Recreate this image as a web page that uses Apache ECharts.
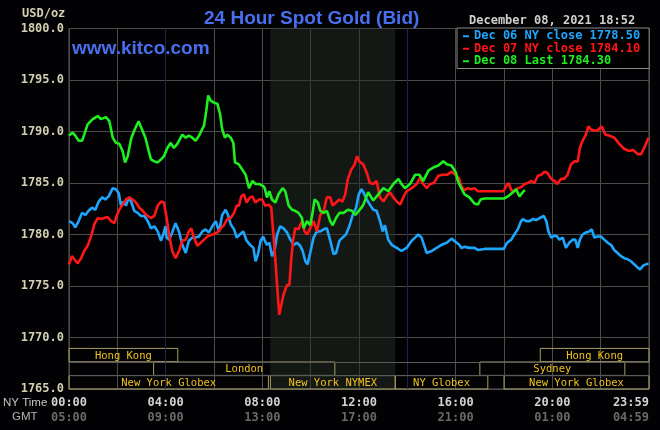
<!DOCTYPE html>
<html>
<head>
<meta charset="utf-8">
<script src="https://cdn.jsdelivr.net/npm/echarts@6/dist/echarts.min.js"></script>
<style>
html, body { margin: 0; padding: 0; background: #020204; }
#chart { width: 660px; height: 430px; }
</style>
</head>
<body>
<div id="chart"></div>
<script>
// hours since 00:00 NY time, price in USD/oz
const dec06 = [[0,1781.3],[0.15,1781.1],[0.26,1780.7],[0.4,1781.3],[0.54,1782.1],[0.68,1781.9],[0.81,1782.3],[0.95,1782.6],[1.09,1782.4],[1.23,1783.2],[1.37,1783.6],[1.5,1783.4],[1.64,1783.7],[1.81,1784.5],[1.94,1784.4],[2.06,1784.0],[2.15,1782.8],[2.25,1783.2],[2.36,1782.8],[2.47,1783.6],[2.57,1783.2],[2.7,1782.3],[2.84,1782.1],[2.98,1781.8],[3.12,1781.8],[3.26,1781.3],[3.39,1780.6],[3.53,1780.8],[3.67,1780.3],[3.81,1779.4],[3.9,1780.0],[3.99,1780.8],[4.04,1779.7],[4.14,1779.5],[4.27,1780.2],[4.41,1781.1],[4.55,1780.3],[4.69,1779.0],[4.83,1778.2],[4.96,1779.4],[5.1,1779.7],[5.24,1779.7],[5.38,1779.8],[5.52,1780.3],[5.65,1780.5],[5.79,1780.2],[5.93,1780.8],[6.07,1781.3],[6.21,1780.3],[6.34,1781.9],[6.48,1782.4],[6.58,1781.9],[6.69,1781.0],[6.83,1780.5],[6.94,1779.7],[7.07,1780.0],[7.21,1780.3],[7.35,1779.4],[7.49,1779.0],[7.63,1778.7],[7.72,1777.4],[7.82,1778.1],[7.93,1779.4],[8.04,1779.8],[8.1,1779.4],[8.19,1779.0],[8.29,1779.2],[8.4,1777.9],[8.51,1778.5],[8.61,1780.0],[8.74,1780.8],[8.88,1780.6],[9.02,1780.2],[9.16,1779.5],[9.3,1779.0],[9.43,1779.2],[9.57,1778.9],[9.67,1778.4],[9.78,1777.4],[9.87,1777.1],[9.98,1778.2],[10.12,1779.7],[10.26,1780.3],[10.4,1780.3],[10.54,1780.5],[10.67,1780.6],[10.81,1779.4],[10.95,1778.1],[11.05,1778.2],[11.19,1779.4],[11.32,1779.7],[11.46,1780.0],[11.6,1780.8],[11.74,1781.9],[11.88,1782.6],[11.99,1783.9],[12.1,1784.4],[12.18,1784.1],[12.32,1783.4],[12.45,1782.9],[12.59,1782.4],[12.73,1782.3],[12.87,1781.3],[12.98,1780.3],[13.07,1780.9],[13.21,1779.5],[13.35,1779.0],[13.56,1778.7],[13.76,1778.4],[13.97,1778.7],[14.18,1779.4],[14.32,1779.7],[14.45,1780.0],[14.59,1779.7],[14.73,1778.7],[14.8,1778.2],[15.01,1778.4],[15.21,1778.7],[15.42,1779.0],[15.63,1779.2],[15.83,1779.6],[16.04,1779.2],[16.15,1779.0],[16.23,1778.7],[16.37,1778.8],[16.57,1778.7],[16.78,1778.7],[16.92,1778.5],[17.19,1778.6],[17.47,1778.6],[17.75,1778.6],[17.99,1778.6],[18.13,1779.2],[18.3,1779.5],[18.43,1780.0],[18.57,1780.5],[18.71,1781.3],[18.78,1781.5],[18.92,1781.3],[19.06,1781.3],[19.19,1781.5],[19.33,1781.4],[19.47,1781.6],[19.65,1781.8],[19.75,1781.3],[19.84,1780.3],[19.95,1779.7],[20.09,1779.9],[20.2,1779.8],[20.29,1779.5],[20.43,1779.7],[20.56,1778.7],[20.7,1779.2],[20.84,1779.5],[20.95,1779.5],[21.05,1778.7],[21.14,1779.5],[21.25,1780.0],[21.39,1780.2],[21.53,1780.3],[21.63,1780.5],[21.74,1779.7],[21.87,1779.8],[22.01,1779.8],[22.15,1779.5],[22.29,1779.2],[22.43,1779.0],[22.56,1778.5],[22.7,1778.2],[22.84,1777.9],[22.98,1777.7],[23.12,1777.6],[23.25,1777.4],[23.39,1777.1],[23.53,1776.8],[23.63,1776.6],[23.77,1777.0],[23.87,1777.1],[23.98,1777.2]];

const dec07 = [[0,1777.1],[0.12,1777.9],[0.22,1777.6],[0.36,1777.2],[0.5,1777.7],[0.63,1778.4],[0.77,1778.9],[0.91,1779.8],[1.05,1781.0],[1.19,1781.6],[1.32,1781.5],[1.46,1781.6],[1.6,1781.7],[1.74,1781.3],[1.88,1781.1],[1.97,1781.8],[2.08,1782.4],[2.22,1782.9],[2.36,1783.4],[2.5,1783.6],[2.63,1783.4],[2.77,1783.1],[2.91,1782.6],[3.05,1782.3],[3.19,1781.9],[3.39,1781.6],[3.53,1781.8],[3.67,1782.8],[3.81,1783.2],[3.93,1783.1],[4.04,1781.6],[4.14,1780.0],[4.27,1778.4],[4.41,1777.7],[4.55,1778.4],[4.69,1779.4],[4.83,1779.5],[4.96,1780.3],[5.06,1780.6],[5.17,1779.7],[5.31,1778.9],[5.45,1779.2],[5.59,1779.5],[5.72,1779.8],[5.93,1780.0],[6.14,1780.2],[6.28,1780.6],[6.41,1780.9],[6.55,1781.5],[6.69,1781.6],[6.83,1782.1],[6.94,1782.8],[7.03,1782.8],[7.13,1783.7],[7.24,1783.9],[7.35,1783.1],[7.49,1783.6],[7.59,1783.7],[7.72,1783.1],[7.86,1783.4],[7.99,1783.4],[8.12,1782.8],[8.26,1782.9],[8.37,1782.6],[8.47,1779.7],[8.56,1776.8],[8.65,1773.8],[8.7,1772.2],[8.79,1773.2],[8.88,1774.2],[9.02,1775.1],[9.12,1775.1],[9.2,1777.7],[9.27,1779.4],[9.36,1780.6],[9.5,1780.5],[9.64,1781.3],[9.75,1780.3],[9.85,1780.0],[9.98,1780.6],[10.12,1781.3],[10.26,1780.3],[10.4,1781.9],[10.54,1782.3],[10.67,1783.6],[10.81,1783.6],[10.91,1782.8],[11.05,1783.1],[11.19,1783.4],[11.32,1783.2],[11.43,1783.9],[11.54,1785.4],[11.68,1786.3],[11.82,1786.8],[11.92,1787.6],[12.01,1787.1],[12.18,1786.8],[12.32,1786.0],[12.45,1785.0],[12.59,1784.9],[12.73,1785.2],[12.87,1783.6],[13.01,1783.2],[13.14,1783.7],[13.28,1784.1],[13.42,1783.6],[13.56,1783.2],[13.7,1782.9],[13.83,1783.6],[13.97,1784.2],[14.18,1784.5],[14.39,1784.9],[14.52,1785.5],[14.66,1784.9],[14.8,1784.5],[14.94,1784.9],[15.1,1785.0],[15.28,1785.7],[15.46,1785.8],[15.65,1785.8],[15.83,1786.1],[16.04,1785.7],[16.15,1785.4],[16.23,1784.7],[16.37,1784.3],[16.5,1784.5],[16.64,1784.4],[16.78,1784.5],[16.92,1784.2],[17.19,1784.2],[17.47,1784.2],[17.75,1784.2],[17.98,1784.2],[18.09,1784.7],[18.19,1785.0],[18.3,1784.3],[18.43,1784.2],[18.57,1784.5],[18.71,1784.6],[18.85,1784.9],[18.99,1785.0],[19.12,1785.2],[19.26,1785.0],[19.4,1785.7],[19.54,1785.8],[19.68,1786.1],[19.79,1786.0],[19.95,1785.4],[20.09,1785.2],[20.2,1784.9],[20.36,1785.4],[20.49,1785.4],[20.63,1785.8],[20.77,1786.8],[20.91,1787.1],[21.05,1787.1],[21.14,1788.4],[21.25,1789.1],[21.39,1789.7],[21.49,1790.5],[21.6,1790.2],[21.74,1790.1],[21.87,1790.1],[22.04,1790.5],[22.19,1789.7],[22.36,1789.6],[22.56,1789.4],[22.77,1788.8],[22.98,1788.3],[23.18,1788.1],[23.35,1788.2],[23.53,1787.8],[23.67,1787.8],[23.8,1788.4],[23.98,1789.4]];

const dec08 = [[0,1789.6],[0.15,1789.9],[0.26,1789.6],[0.4,1789.1],[0.54,1789.1],[0.63,1789.7],[0.77,1790.7],[0.98,1791.2],[1.19,1791.5],[1.32,1791.2],[1.53,1791.4],[1.67,1791.0],[1.81,1789.4],[1.94,1788.9],[2.08,1788.8],[2.22,1788.1],[2.32,1787.0],[2.43,1787.6],[2.57,1789.3],[2.7,1790.1],[2.88,1791.0],[3.02,1790.2],[3.16,1789.4],[3.3,1788.1],[3.39,1787.3],[3.53,1787.1],[3.67,1787.0],[3.81,1787.3],[3.93,1787.6],[4.07,1788.4],[4.21,1788.9],[4.34,1788.4],[4.48,1788.8],[4.69,1789.7],[4.83,1789.4],[4.96,1789.6],[5.1,1789.4],[5.24,1789.1],[5.38,1789.6],[5.59,1790.6],[5.68,1792.0],[5.76,1793.5],[5.86,1793.0],[6.0,1792.8],[6.14,1792.7],[6.25,1791.7],[6.34,1790.2],[6.45,1789.4],[6.55,1789.7],[6.69,1789.4],[6.8,1788.9],[6.87,1787.0],[7.03,1786.8],[7.17,1786.3],[7.31,1785.8],[7.45,1784.5],[7.59,1785.2],[7.72,1784.9],[7.86,1784.9],[8.04,1784.7],[8.1,1784.5],[8.19,1783.6],[8.29,1784.2],[8.4,1783.4],[8.54,1783.1],[8.67,1783.9],[8.84,1784.5],[8.95,1784.2],[9.09,1782.8],[9.23,1782.4],[9.36,1782.3],[9.5,1782.1],[9.64,1781.6],[9.71,1780.6],[9.85,1781.3],[9.98,1780.9],[10.08,1782.1],[10.16,1783.4],[10.3,1783.1],[10.4,1782.3],[10.54,1782.1],[10.67,1782.3],[10.81,1781.3],[10.91,1780.9],[11.05,1781.6],[11.19,1782.1],[11.36,1782.1],[11.54,1782.4],[11.71,1782.3],[11.85,1781.9],[11.99,1782.3],[12.1,1782.6],[12.18,1782.9],[12.38,1784.1],[12.59,1783.3],[12.8,1783.9],[13.01,1784.5],[13.21,1784.2],[13.42,1784.9],[13.63,1785.4],[13.76,1784.9],[13.9,1784.5],[14.11,1784.9],[14.32,1785.8],[14.5,1785.8],[14.66,1785.2],[14.87,1786.2],[15.07,1786.5],[15.28,1786.7],[15.49,1787.1],[15.65,1786.8],[15.83,1786.7],[16.01,1786.0],[16.09,1785.2],[16.23,1784.5],[16.37,1783.9],[16.57,1783.6],[16.78,1783.0],[16.92,1782.9],[17.03,1783.4],[17.19,1783.5],[17.47,1783.5],[17.75,1783.5],[18.02,1783.5],[18.16,1783.7],[18.37,1784.1],[18.5,1784.4],[18.64,1783.7],[18.71,1783.6],[18.81,1784.2],[18.87,1784.3]];

const seriesNames = ['Dec 06 NY close 1778.50', 'Dec 07 NY close 1784.10', 'Dec 08 Last 1784.30'];
const seriesColors = ['#1ea6ff', '#ff1616', '#1fee1f'];

const nyTimeLabels = ['00:00', '04:00', '08:00', '12:00', '16:00', '20:00', '23:59'];
const gmtLabels = ['05:00', '09:00', '13:00', '17:00', '21:00', '01:00', '04:59'];

// trading sessions (row 0 = top)
const sessionNames = ['Hong Kong', 'London', 'New York Globex', 'New York NYMEX', 'NY Globex', 'Hong Kong', 'Sydney', 'New York Globex'];
const sessionStart = [0, 3.5, 0, 8.333, 13.5, 19.5, 17, 18];
const sessionEnd = [4.5, 11, 8.25, 13.5, 17.33, 24, 23, 24];
const sessionRow = [0, 1, 2, 2, 2, 0, 1, 2];

const nymexHours = [8.333, 13.5];
const markerHours = [4, 14];

const MONO = '"DejaVu Sans Mono", monospace';
const rowBase = 1765;
const rowStep = 1.32;
const rowHeight = 1.3;

function renderSession(params, api) {
    const row = api.value(2);
    const bottom = rowBase + (2 - row) * rowStep;
    const p0 = api.coord([api.value(0), bottom + rowHeight]);
    const p1 = api.coord([api.value(1), bottom]);
    return {
        type: 'group',
        children: [
            {
                type: 'rect',
                shape: { x: p0[0], y: p0[1], width: p1[0] - p0[0], height: p1[1] - p0[1] },
                style: { fill: 'none', stroke: '#a59c62', lineWidth: 1 }
            },
            {
                type: 'text',
                x: (p0[0] + p1[0]) / 2,
                y: (p0[1] + p1[1]) / 2 + 1,
                style: {
                    text: sessionNames[params.dataIndex],
                    align: 'center',
                    verticalAlign: 'middle',
                    fill: '#f0c21c',
                    font: '10.5px ' + MONO
                }
            }
        ]
    };
}

const lineSeries = [dec06, dec07, dec08].map((data, i) => ({
    name: seriesNames[i],
    type: 'line',
    data: data,
    showSymbol: false,
    color: seriesColors[i],
    lineStyle: { width: 2.6, color: seriesColors[i] },
    z: 5 + i
}));

const option = {
    backgroundColor: '#020204',
    animation: false,
    title: {
        text: '24 Hour Spot Gold (Bid)',
        left: 199,
        top: 4,
        textStyle: { color: '#4a6ef0', fontFamily: 'Liberation Sans', fontSize: 19, fontWeight: 'bold' }
    },
    legend: {
        left: 457,
        top: 28,
        orient: 'vertical',
        backgroundColor: '#000000',
        borderColor: '#8a8a8a',
        borderWidth: 1,
        padding: [2, 9, 1, 6],
        itemGap: 0,
        itemWidth: 6,
        itemHeight: 2,
        icon: 'rect',
        selectedMode: false,
        data: seriesNames.map((n, i) => ({
            name: n,
            textStyle: { color: seriesColors[i] }
        })),
        textStyle: { fontFamily: MONO, fontSize: 12, fontWeight: 'bold', lineHeight: 12.5 }
    },
    grid: {
        left: 69,
        right: 11,
        top: 28.5,
        bottom: 41,
        show: true,
        borderColor: '#5c5c5c',
        borderWidth: 1
    },
    xAxis: {
        type: 'value',
        min: 0,
        max: 24,
        interval: 2,
        axisLine: { show: false },
        axisTick: { show: false },
        splitLine: { lineStyle: { color: '#4c4c4c', width: 1 } },
        axisLabel: {
            margin: 6,
            alignMaxLabel: 'right',
            formatter: v => v % 4 ? '' : '{a|' + nyTimeLabels[v / 4] + '}\n{b|' + gmtLabels[v / 4] + '}',
            rich: {
                a: { color: '#d2d2d2', fontFamily: MONO, fontWeight: 'bold', fontSize: 12, lineHeight: 15 },
                b: { color: '#6a6a6a', fontFamily: MONO, fontWeight: 'bold', fontSize: 12, lineHeight: 15 }
            }
        }
    },
    yAxis: {
        type: 'value',
        min: 1765,
        max: 1800,
        interval: 5,
        axisLine: { show: false },
        axisTick: { show: false },
        splitLine: { lineStyle: { color: '#4c4c4c', width: 1 } },
        axisLabel: {
            margin: 5,
            color: '#d2cfb2',
            fontFamily: MONO,
            fontWeight: 'bold',
            fontSize: 12,
            formatter: v => v.toFixed(1)
        }
    },
    graphic: [
        { type: 'text', x: 22, y: 14, style: { text: 'USD/oz', font: 'bold 12px ' + MONO, fill: '#d2cfb2', verticalAlign: 'middle' } },
        { type: 'text', x: 469, y: 21, style: { text: 'December 08, 2021 18:52', font: 'bold 12px ' + MONO, fill: '#cfcfcf', verticalAlign: 'middle' } },
        { type: 'text', x: 72, y: 49, z: 20, style: { text: 'www.kitco.com', font: 'bold 19px "Liberation Sans"', fill: '#4a6ef0', verticalAlign: 'middle' } },
        { type: 'text', x: 3, y: 403, style: { text: 'NY Time', font: '11.5px "Liberation Sans"', fill: '#c4c4c4', verticalAlign: 'middle' } },
        { type: 'text', x: 12, y: 417, style: { text: 'GMT', font: '11.5px "Liberation Sans"', fill: '#b4b4b4', verticalAlign: 'middle' } }
    ],
    series: [
        {
            name: 'nymex',
            type: 'line',
            data: [],
            silent: true,
            markArea: {
                silent: true,
                itemStyle: { color: 'rgba(38,46,38,0.5)' },
                data: [[{ xAxis: nymexHours[0] }, { xAxis: nymexHours[1] }]]
            },
            markLine: {
                silent: true,
                symbol: 'none',
                label: { show: false },
                lineStyle: { color: '#1c2456', type: 'solid', width: 1 },
                data: markerHours.map(h => ({ xAxis: h }))
            }
        },
        {
            name: 'sessions',
            type: 'custom',
            renderItem: renderSession,
            clip: false,
            silent: true,
            encode: { x: [0, 1], y: 2 },
            data: sessionStart.map((s, i) => [s, sessionEnd[i], sessionRow[i]]),
            markLine: {
                silent: true,
                symbol: 'none',
                label: { show: false },
                lineStyle: { color: '#5a5a5a', type: 'solid', width: 1 },
                data: [{ yAxis: rowBase + rowStep - 0.01 }, { yAxis: rowBase + 2 * rowStep - 0.01 }]
            }
        }
    ].concat(lineSeries)
};

const chart = echarts.init(document.getElementById('chart'));
chart.setOption(option);
</script>
</body>
</html>
